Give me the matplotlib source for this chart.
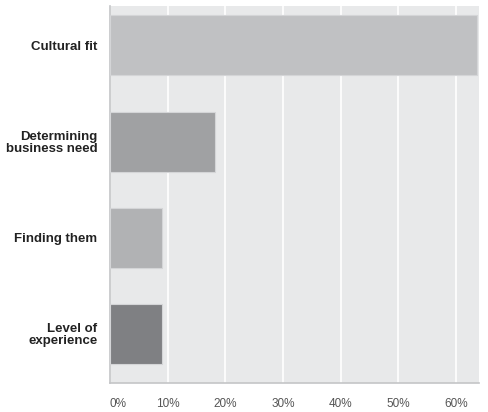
import matplotlib.pyplot as plt

# data
categories = ['Cultural fit', 'Determining\nbusiness need', 'Finding them', 'Level of\nexperience']
values = [63.6, 18.2, 9.1, 9.1]
bar_colors = ['#c0c1c3', '#a0a1a3', '#b1b2b4', '#7f8083']
xticks = [0, 10, 20, 30, 40, 50, 60]
xtick_labels = ['0%', '10%', '20%', '30%', '40%', '50%', '60%']

plt.rcParams['font.family'] = ['Liberation Sans', 'DejaVu Sans']

fig = plt.figure(figsize=(4.88, 4.12), dpi=100)
ax = fig.add_axes([0.2254, 0.0704, 0.756, 0.915])
ax.set_facecolor('#e8e9ea')

y = list(range(len(categories)))
ax.barh(y, values, height=0.625, color=bar_colors, edgecolor='#d4d5d7', linewidth=0.8, zorder=3)

ax.set_ylim(3.51, -0.41)
ax.set_xlim(0, 64)

ax.set_xticks(xticks)
ax.set_xticklabels(xtick_labels, fontsize=8.5, color='#555555')
ax.get_xticklabels()[0].set_horizontalalignment('left')
ax.set_yticks(y)
ax.set_yticklabels(categories, fontsize=9.5, fontweight='bold', color='#222222', linespacing=1.0)
ax.tick_params(axis='x', length=0, pad=11)
ax.tick_params(axis='y', length=0, pad=9)

ax.grid(axis='x', color='white', linewidth=1.2, zorder=1)
for s in ['top', 'right']:
    ax.spines[s].set_visible(False)
for s in ['left', 'bottom']:
    ax.spines[s].set_color('#c4c5c7')
    ax.spines[s].set_linewidth(1.2)

plt.savefig('out.png', dpi=100)
